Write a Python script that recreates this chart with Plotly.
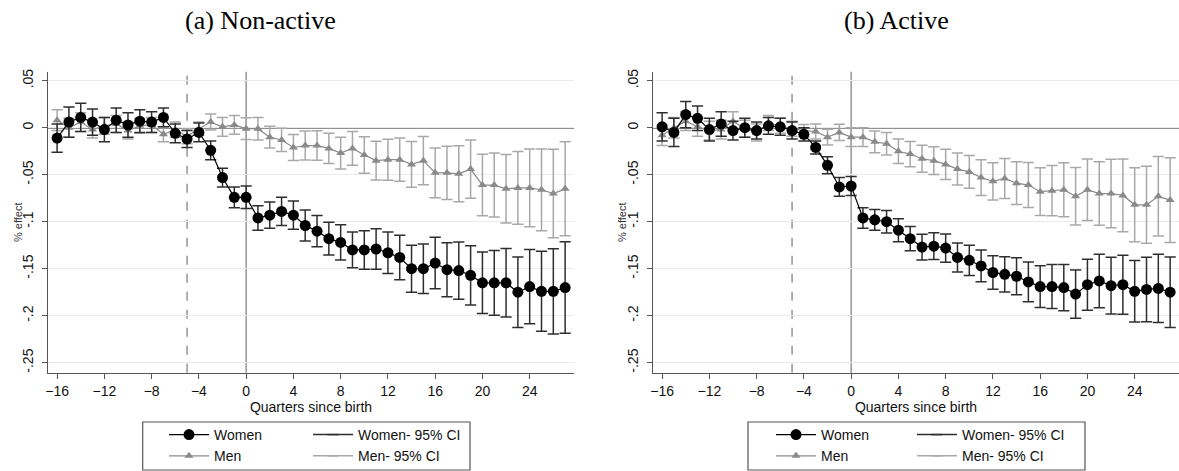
import plotly.graph_objects as go
from plotly.subplots import make_subplots

# Quarters relative to birth
quarters = list(range(-16, 28))

# (a) Non-active: point estimates and half-width of the 95% CI
na_women = [-0.011, 0.006, 0.011, 0.006, -0.002, 0.008, 0.003, 0.007, 0.006, 0.011,
            -0.006, -0.012, -0.005, -0.024, -0.053, -0.074,
            -0.074, -0.096, -0.093, -0.089, -0.093, -0.104, -0.110, -0.118, -0.122, -0.130,
            -0.130, -0.129, -0.133, -0.138, -0.150, -0.150, -0.144, -0.151, -0.152, -0.157,
            -0.165, -0.165, -0.165, -0.175, -0.169, -0.174, -0.174, -0.170]
na_women_ci = [0.015, 0.016, 0.015, 0.014, 0.013, 0.013, 0.013, 0.012, 0.011, 0.010,
               0.010, 0.009, 0.010, 0.010, 0.010, 0.011,
               0.012, 0.013, 0.014, 0.015, 0.015, 0.0165, 0.0166, 0.0175, 0.0188, 0.019,
               0.0205, 0.0216, 0.022, 0.0237, 0.025, 0.0264, 0.0274, 0.0287, 0.0304, 0.0315,
               0.0327, 0.0345, 0.0364, 0.0375, 0.0395, 0.0425, 0.0453, 0.0487]
na_men = [0.008, 0.000, 0.006, -0.002, 0.002, 0.004, -0.003, 0.002, 0.003, -0.007,
          -0.002, -0.009, -0.001, 0.006, 0.001, 0.003,
          -0.001, -0.001, -0.010, -0.013, -0.021, -0.019, -0.019, -0.022, -0.027, -0.022,
          -0.029, -0.035, -0.034, -0.034, -0.039, -0.035, -0.048, -0.048, -0.049, -0.044,
          -0.061, -0.061, -0.065, -0.064, -0.064, -0.066, -0.070, -0.065]
na_men_ci = [0.011, 0.010, 0.010, 0.009, 0.009, 0.009, 0.009, 0.008, 0.008, 0.008,
             0.008, 0.008, 0.007, 0.0085, 0.010, 0.010,
             0.0115, 0.012, 0.0115, 0.0124, 0.0138, 0.0154, 0.0157, 0.016, 0.017, 0.018,
             0.0195, 0.0205, 0.0218, 0.023, 0.0244, 0.0257, 0.0265, 0.0283, 0.0297, 0.031,
             0.0327, 0.034, 0.0364, 0.0386, 0.0414, 0.0435, 0.047, 0.050]

# (b) Active
ac_women = [0.001, -0.005, 0.014, 0.010, -0.002, 0.004, -0.003, 0.000, -0.003, 0.002,
            0.001, -0.003, -0.007, -0.021, -0.040, -0.063,
            -0.062, -0.096, -0.098, -0.100, -0.109, -0.118, -0.127, -0.126, -0.128, -0.138,
            -0.141, -0.147, -0.154, -0.156, -0.158, -0.164, -0.169, -0.169, -0.170, -0.177,
            -0.167, -0.163, -0.168, -0.167, -0.174, -0.172, -0.171, -0.175]
ac_women_ci = [0.015, 0.015, 0.014, 0.013, 0.012, 0.013, 0.010, 0.010, 0.009, 0.009,
               0.009, 0.009, 0.007, 0.007, 0.009, 0.010,
               0.010, 0.011, 0.011, 0.012, 0.0122, 0.0129, 0.0138, 0.0143, 0.015, 0.0154,
               0.0161, 0.0168, 0.0179, 0.0188, 0.0198, 0.0212, 0.0223, 0.0234, 0.0246, 0.0257,
               0.0271, 0.0285, 0.0301, 0.0313, 0.0327, 0.0343, 0.0363, 0.0375]
ac_men = [-0.008, 0.000, 0.007, 0.001, -0.003, -0.002, 0.007, -0.001, -0.005, 0.005,
          0.002, -0.001, -0.003, -0.004, -0.010, -0.005,
          -0.010, -0.010, -0.015, -0.017, -0.025, -0.028, -0.033, -0.035, -0.039, -0.044,
          -0.047, -0.053, -0.057, -0.054, -0.059, -0.061, -0.068, -0.067, -0.066, -0.073,
          -0.066, -0.070, -0.070, -0.072, -0.082, -0.082, -0.073, -0.077]
ac_men_ci = [0.011, 0.011, 0.010, 0.010, 0.010, 0.010, 0.010, 0.009, 0.009, 0.008,
             0.008, 0.008, 0.0065, 0.008, 0.0085, 0.0087,
             0.010, 0.010, 0.0115, 0.012, 0.013, 0.0134, 0.0143, 0.0147, 0.016, 0.017,
             0.0175, 0.019, 0.0198, 0.0212, 0.0228, 0.0239, 0.0255, 0.0267, 0.0288, 0.0306,
             0.0327, 0.0338, 0.0364, 0.0386, 0.0393, 0.041, 0.0423, 0.0451]

panel_titles = ["(a) Non-active", "(b) Active"]
y_tickvals = [0.05, 0, -0.05, -0.1, -0.15, -0.2, -0.25]
y_ticktext = [".05", "0", "-.05", "-.1", "-.15", "-.2", "-.25"]
x_tickvals = [-16, -12, -8, -4, 0, 4, 8, 12, 16, 20, 24]

W, H = 1179, 471
SANS = "Liberation Sans, Arial, sans-serif"
SERIF = "Liberation Serif, Times New Roman, serif"

BLACK = "#000000"
DARK = "#2e2e2e"
GRAY = "#8a8a8a"
LIGHT = "#a8a8a8"


def ci_segments(est, half):
    # vertical CI segments, one per quarter, separated by None
    xs, ys = [], []
    for q, e, h in zip(quarters, est, half):
        xs += [q, q, None]
        ys += [e - h, e + h, None]
    return xs, ys


fig = make_subplots(rows=1, cols=2)

panels = [
    (1, na_women, na_women_ci, na_men, na_men_ci, "legend", "legend2"),
    (2, ac_women, ac_women_ci, ac_men, ac_men_ci, "legend3", "legend4"),
]

for col, w, wci, m, mci, leg_a, leg_b in panels:
    # Men CI
    xs, ys = ci_segments(m, mci)
    fig.add_trace(go.Scatter(
        x=xs, y=ys, mode="lines+markers", name="Men- 95% CI",
        line=dict(color=LIGHT, width=1.5),
        marker=dict(symbol="line-ew", size=8, line=dict(color=LIGHT, width=1.5)),
        legend=leg_b, legendrank=2, hoverinfo="skip",
    ), row=1, col=col)
    # Men
    fig.add_trace(go.Scatter(
        x=quarters, y=m, mode="lines+markers", name="Men",
        line=dict(color=GRAY, width=1.2),
        marker=dict(symbol="triangle-up", size=8, color=GRAY),
        legend=leg_a, legendrank=2,
    ), row=1, col=col)
    # Women CI
    xs, ys = ci_segments(w, wci)
    fig.add_trace(go.Scatter(
        x=xs, y=ys, mode="lines+markers", name="Women- 95% CI",
        line=dict(color=DARK, width=1.5),
        marker=dict(symbol="line-ew", size=8, line=dict(color=DARK, width=1.5)),
        legend=leg_b, legendrank=1, hoverinfo="skip",
    ), row=1, col=col)
    # Women
    fig.add_trace(go.Scatter(
        x=quarters, y=w, mode="lines+markers", name="Women",
        line=dict(color=BLACK, width=1.2),
        marker=dict(symbol="circle", size=11, color=BLACK),
        legend=leg_a, legendrank=1,
    ), row=1, col=col)

# panel positions (pixels -> paper)
y_dom = [(H - 372.7) / H, (H - 71.7) / H]
x_doms = [[48 / W, 574 / W], [653 / W, 1.0]]

for i, dom in enumerate(x_doms, start=1):
    fig.update_xaxes(
        domain=dom, range=[-16.77, 27.75], tickvals=x_tickvals, automargin=False,
        showgrid=False, zeroline=False, showline=True, linecolor="#555555", linewidth=1.2,
        ticks="outside", ticklen=5, tickcolor="#555555", tickwidth=1.2,
        tickfont=dict(family=SANS, size=14, color="#111111"),
        title=dict(text="Quarters since birth", standoff=2,
                   font=dict(family=SANS, size=14, color="#111111")),
        row=1, col=i,
    )
    fig.update_yaxes(
        domain=y_dom, range=[-0.2606, 0.0596], tickvals=y_tickvals, ticktext=y_ticktext,
        tickangle=-90, showgrid=True, gridcolor="#ebebeb", gridwidth=1, zeroline=False,
        showline=True, linecolor="#555555", linewidth=1.2, automargin=False,
        ticks="outside", ticklen=5, tickcolor="#555555", tickwidth=1.2, ticklabelstandoff=3,
        tickfont=dict(family=SANS, size=14, color="#111111"),
        row=1, col=i,
    )

# reference lines: y=0, birth quarter, and anticipation quarter
for xref, yref in [("x", "y"), ("x2", "y2")]:
    fig.add_shape(type="line", xref=xref + " domain", yref=yref, x0=0, x1=1, y0=0, y1=0,
                  line=dict(color="#222222", width=1.5), layer="below")
    fig.add_shape(type="line", xref=xref, yref=yref + " domain", x0=0, x1=0, y0=0, y1=1,
                  line=dict(color="#7a7a7a", width=1.2), layer="below")
    fig.add_shape(type="line", xref=xref, yref=yref + " domain", x0=-5, x1=-5, y0=0, y1=1,
                  line=dict(color="#7a7a7a", width=1.2, dash="dash"), layer="below")

# panel titles
for txt, xc in zip(panel_titles, [260, 896]):
    fig.add_annotation(text=txt, xref="paper", yref="paper", x=xc / W, y=1 - 21 / H,
                       xanchor="center", yanchor="middle", showarrow=False,
                       font=dict(family=SERIF, size=26, color="#000000"))

# y-axis titles
for xc in [18, 622]:
    fig.add_annotation(text="% effect", xref="paper", yref="paper", x=xc / W, y=1 - 222 / H,
                       xanchor="center", yanchor="middle", showarrow=False, textangle=-90,
                       font=dict(family=SANS, size=11, color="#333333"))

# legend boxes
for x0, x1 in [(142.7, 470), (748, 1085)]:
    fig.add_shape(type="rect", xref="paper", yref="paper",
                  x0=x0 / W, x1=x1 / W, y0=1 / H, y1=(H - 422) / H,
                  line=dict(color="#555555", width=1.2), fillcolor="rgba(0,0,0,0)")

leg_style = dict(font=dict(family=SANS, size=14, color="#111111"), bgcolor="rgba(0,0,0,0)",
                 borderwidth=0, orientation="v", xanchor="left", yanchor="top",
                 y=(H - 419) / H, itemwidth=40, tracegroupgap=0)

fig.update_layout(
    width=W, height=H,
    # no auto-expansion: the legends sit at the bottom edge and must not shrink the panels
    margin=dict(l=0, r=0, t=0, b=0, autoexpand=False),
    paper_bgcolor="white", plot_bgcolor="white",
    showlegend=True,
    legend=dict(leg_style, x=164 / W),
    legend2=dict(leg_style, x=308 / W),
    legend3=dict(leg_style, x=771 / W),
    legend4=dict(leg_style, x=912 / W),
)

# the page body has a default 8px margin; drop it so the figure fills the window exactly
page_fix = (
    "document.documentElement.style.margin='0';"
    "document.body.style.margin='0';"
    "document.body.style.padding='0';"
    "document.documentElement.style.overflow='hidden';"
    "document.body.style.overflow='hidden';"
    "document.body.style.height='%dpx';" % H
)
fig.write_html("out.html", config={"displayModeBar": False}, post_script=page_fix)
